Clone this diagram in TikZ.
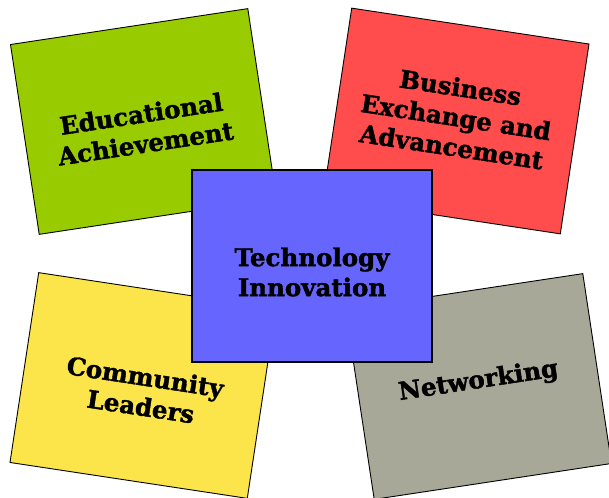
\documentclass[tikz,border=0pt]{standalone}
\usepackage{fontspec}
\setmainfont[BoldFeatures={FakeBold=1.6}]{DejaVu Serif}
\definecolor{cardgreen}{RGB}{153,204,0}
\definecolor{cardred}{RGB}{255,77,77}
\definecolor{cardyellow}{RGB}{251,229,75}
\definecolor{cardgray}{RGB}{168,168,152}
\definecolor{cardblue}{RGB}{102,102,255}
\tikzset{card/.style={draw=black, line width=0.9pt, minimum width=240pt, minimum height=192pt, inner sep=0pt},
  hub/.style={card, line width=2pt},
  cardtext/.style={inner sep=0pt, align=center, font=\fontsize{24.5}{30}\selectfont\bfseries}}

\begin{document}
\begin{tikzpicture}[x=1pt,y=-1pt]

\useasboundingbox (0,0) rectangle (609,497);

\coordinate (edu) at (143.5,121.5);
\coordinate (bus) at (456,121);
\coordinate (com) at (143,385.5);
\coordinate (net) at (478.5,386.5);
\coordinate (tech) at (312,266);

% outer cards
\node[card, fill=cardgreen, rotate=8.6] (educ) at (edu) {};
\node[card, fill=cardred, rotate=-8.6] (busi) at (bus) {};
\node[card, fill=cardyellow, rotate=-8.6] (comm) at (com) {};
\node[card, fill=cardgray, rotate=8.6] (netw) at (net) {};

\node[cardtext, rotate=8.6] (educ-t) at ([yshift=-7pt]educ.center) {Educational\\Achievement};
\node[cardtext, rotate=-8.6] (busi-t) at ([yshift=4pt]busi.center) {Business\\Exchange and\\Advancement};
\node[cardtext, rotate=-8.6] (comm-t) at ([yshift=-6pt]comm.center) {Community\\Leaders};
\node[cardtext, rotate=8.6] (netw-t) at ([yshift=5pt]netw.center) {Networking};

% centre
\node[hub, fill=cardblue] (techn) at (tech) {};
\node[cardtext] (techn-t) at ([yshift=-6pt]techn.center) {Technology\\Innovation};

\end{tikzpicture}
\end{document}
